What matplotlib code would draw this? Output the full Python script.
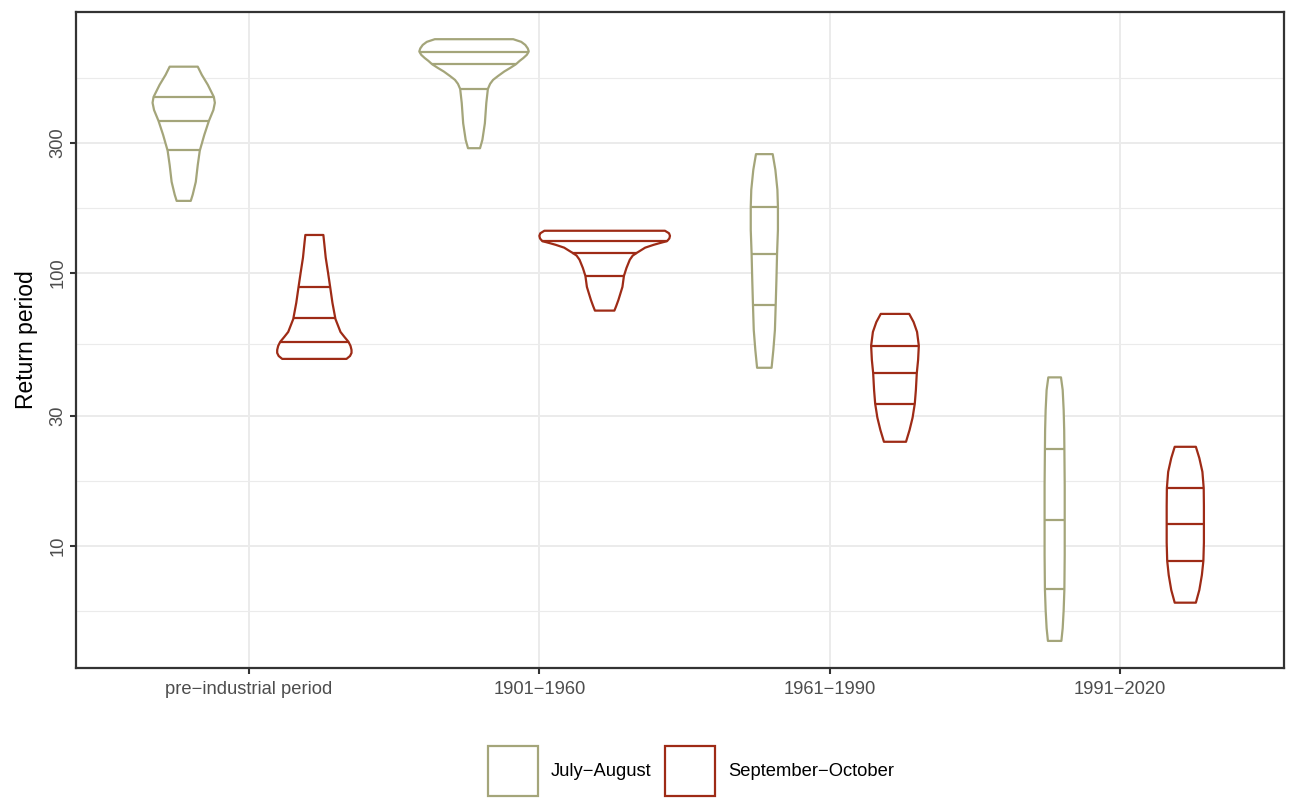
import numpy as np
import matplotlib.pyplot as plt
from matplotlib.patches import Patch
from matplotlib.ticker import FixedLocator, NullFormatter

plt.rcParams['font.family'] = ['Liberation Sans', 'DejaVu Sans']

periods = ['pre\u2212industrial period', '1901\u22121960', '1961\u22121990', '1991\u22122020']
seasons = ['July\u2212August', 'September\u2212October']
colors = ['#A4A57A', '#9E2B16']
y_breaks = [10, 30, 100, 300]

# violin outlines, top to bottom:
# return period and half-width relative to the widest violin
ja_pre_rp = [571, 533, 490, 442, 421, 396, 361, 321, 281, 249, 216, 194, 184]
ja_pre_w = [0.215, 0.277, 0.369, 0.462, 0.477, 0.454, 0.385, 0.315, 0.246, 0.215, 0.185, 0.138, 0.108]
ja_pre_q = [442, 362, 282]

so_pre_rp = [138, 127, 114, 101, 89, 77.8, 67.9, 60.9, 58.4, 56.0, 54.1, 52.3, 51.0, 49.7, 48.5]
so_pre_w = [0.138, 0.154, 0.174, 0.208, 0.242, 0.277, 0.323, 0.40, 0.46, 0.523, 0.554, 0.569, 0.569, 0.546, 0.492]
so_pre_q = [89.2, 68.4, 56.1]

ja_1901_rp = [720, 704, 686, 666, 649, 631, 614, 600, 583, 565, 548, 528, 511, 494, 473, 420, 354, 308, 287]
ja_1901_w = [0.60, 0.723, 0.785, 0.823, 0.838, 0.808, 0.754, 0.70, 0.642, 0.554, 0.462, 0.369, 0.292,
             0.246, 0.212, 0.188, 0.166, 0.128, 0.092]
ja_1901_q = [649, 583, 473]

so_1901_rp = [143, 140, 137, 134, 131, 129, 127, 124, 119, 116, 112, 104.5, 97.7, 89, 79.8, 75.8, 72.9]
so_1901_w = [0.923, 0.985, 1.0, 0.99, 0.955, 0.85, 0.75, 0.62, 0.50, 0.43, 0.385, 0.334, 0.295, 0.272,
             0.211, 0.177, 0.149]
so_1901_q = [131, 119, 97.5]

ja_1961_rp = [273, 239, 202, 175, 144, 118, 94.4, 76.5, 61.9, 52.3, 45.0]
ja_1961_w = [0.128, 0.169, 0.20, 0.208, 0.208, 0.195, 0.185, 0.174, 0.162, 0.138, 0.111]
ja_1961_q = [174.5, 118, 76.5]

so_1961_rp = [70.9, 66.2, 60.9, 54.2, 48.1, 43.0, 37.3, 33.2, 29.5, 26.6, 24.1]
so_1961_w = [0.218, 0.285, 0.338, 0.365, 0.354, 0.334, 0.32, 0.303, 0.269, 0.223, 0.169]
so_1961_q = [54.2, 43.0, 33.2]

ja_1991_rp = [41.5, 37.3, 31.5, 26.6, 22.7, 16.7, 12.5, 9.27, 6.94, 5.83, 5.00, 4.49]
ja_1991_w = [0.097, 0.123, 0.138, 0.146, 0.149, 0.154, 0.154, 0.154, 0.149, 0.138, 0.123, 0.103]
ja_1991_q = [22.7, 12.5, 6.94]

so_1991_rp = [23.1, 21.0, 18.7, 16.3, 14.0, 12.0, 10.3, 8.83, 7.83, 6.90, 6.20]
so_1991_w = [0.162, 0.215, 0.262, 0.282, 0.285, 0.285, 0.285, 0.277, 0.254, 0.215, 0.162]
so_1991_q = [16.3, 12.0, 8.83]

violins = [
    (0, 0, ja_pre_rp, ja_pre_w, ja_pre_q), (0, 1, so_pre_rp, so_pre_w, so_pre_q),
    (1, 0, ja_1901_rp, ja_1901_w, ja_1901_q), (1, 1, so_1901_rp, so_1901_w, so_1901_q),
    (2, 0, ja_1961_rp, ja_1961_w, ja_1961_q), (2, 1, so_1961_rp, so_1961_w, so_1961_q),
    (3, 0, ja_1991_rp, ja_1991_w, ja_1991_q), (3, 1, so_1991_rp, so_1991_w, so_1991_q),
]

dodge = 0.225
half_max = 0.225
lw = 1.6
grid_col = '#EBEBEB'
dark = '#333333'


def draw_violin(ax, xc, rp, w, q, color):
    rp = np.array(rp, dtype=float)
    hw = np.array(w) * half_max
    xs = np.concatenate([xc - hw, (xc + hw)[::-1]])
    ys = np.concatenate([rp, rp[::-1]])
    ax.fill(xs, ys, facecolor='white', edgecolor=color, lw=lw, joinstyle='round', zorder=3)
    for v in q:
        h = np.interp(np.log10(v), np.log10(rp[::-1]), hw[::-1])
        ax.plot([xc - h, xc + h], [v, v], color=color, lw=lw, zorder=4, solid_capstyle='butt')


fig = plt.figure(figsize=(13.04, 8), dpi=100)
ax = fig.add_axes([76 / 1304, 1 - 668 / 800, 1208 / 1304, 656 / 800])

for ci, si, rp, w, q in violins:
    xc = ci + (dodge if si else -dodge)
    draw_violin(ax, xc, rp, w, q, colors[si])

ax.set_yscale('log')
ax.set_xlim(-0.596, 3.565)
ax.set_ylim(10 ** 0.553, 10 ** 2.957)

# ggplot-style minor breaks: midpoints between majors in log space
lb = np.log10(y_breaks)
ext = np.concatenate([[lb[0] - (lb[1] - lb[0])], lb, [lb[-1] + (lb[1] - lb[0])]])
minor = 10 ** ((ext[:-1] + ext[1:]) / 2)

ax.set_yticks(y_breaks)
ax.set_yticklabels([str(b) for b in y_breaks])
ax.yaxis.set_minor_locator(FixedLocator(minor))
ax.yaxis.set_minor_formatter(NullFormatter())
ax.set_xticks(range(len(periods)))
ax.set_xticklabels(periods)

ax.grid(True, which='major', color=grid_col, lw=1.4)
ax.grid(True, which='minor', axis='y', color=grid_col, lw=0.8)
ax.set_axisbelow(True)

ax.tick_params(axis='both', which='major', length=4.1, width=1.5, color=dark,
               labelsize=13.2, labelcolor='#4D4D4D')
ax.tick_params(axis='x', pad=5.5)
ax.tick_params(axis='y', labelrotation=90, pad=3)
ax.tick_params(axis='y', which='minor', length=0)
for lab in ax.get_yticklabels():
    lab.set_va('center')
for sp in ax.spines.values():
    sp.set_color(dark)
    sp.set_linewidth(1.6)

ax.set_ylabel('Return period', fontsize=16.5, labelpad=8)

handles = [Patch(facecolor='white', edgecolor=c, lw=lw) for c in colors]
fig.legend(handles, seasons, loc='center', bbox_to_anchor=(691 / 1304, 1 - 771 / 800),
           ncol=2, frameon=False, fontsize=13.2, handlelength=2.73, handleheight=3.9,
           handletextpad=0.71, columnspacing=0.71, borderpad=0)

fig.savefig('out.png', dpi=100)
